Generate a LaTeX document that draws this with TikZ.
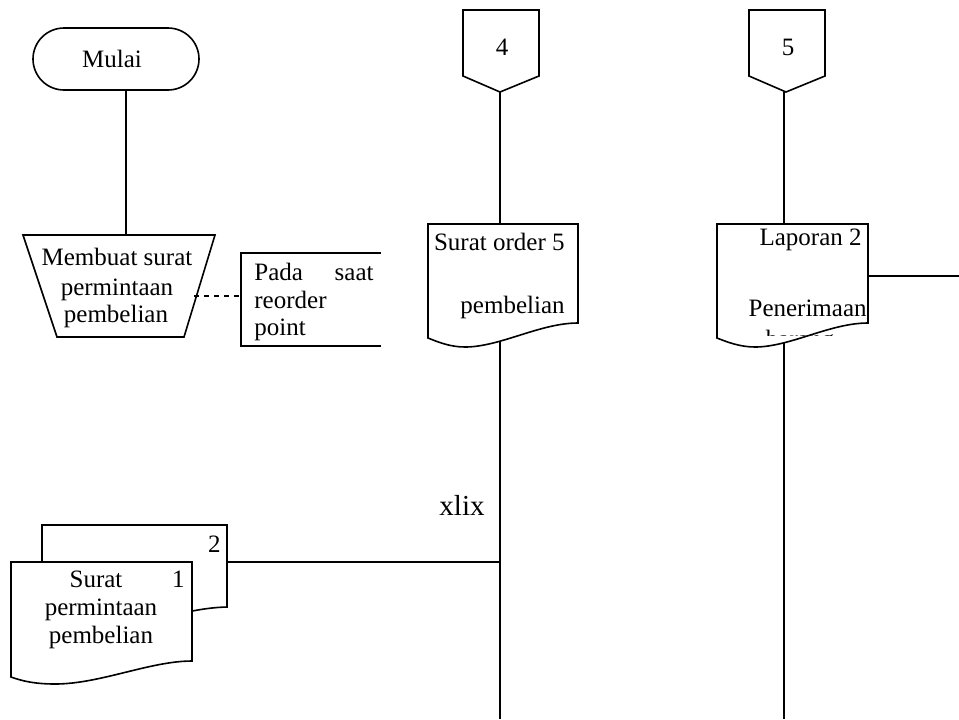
\documentclass[tikz,border=0pt]{standalone}
\usepackage{fontspec}
\setmainfont{Liberation Serif}
\begin{document}
\begin{tikzpicture}[x=0.5pt,y=-0.5pt,
  line/.style={line width=0.8pt, line join=miter},
  shapebox/.style={line, draw=black, fill=white},
  txt/.style={inner sep=0pt, font=\fontsize{12.5}{14}\selectfont, anchor=base},
  txtl/.style={txt, anchor=base west},
  txtr/.style={txt, anchor=base east}]
\useasboundingbox (0,0) rectangle (959,719);

% ---------- flow lines (drawn first, shapes cover their ends) ----------
\coordinate (mulaiS) at (126,90);
\coordinate (procN)  at (126,235);
\draw[line] (mulaiS) -- (procN);

\coordinate (c4S) at (500,92);
\coordinate (bot4) at (500,719);
\draw[line] (c4S) -- (bot4);

\coordinate (c5S) at (784,92);
\coordinate (bot5) at (784,719);
\draw[line] (c5S) -- (bot5);

\coordinate (join4) at (500,562);
\coordinate (spE) at (227,562);
\draw[line] (spE) -- (join4);

\coordinate (lapE) at (868,276);
\coordinate (rightEdge) at (959,276);
\draw[line] (lapE) -- (rightEdge);

% ---------- start terminator ----------
\draw[shapebox, rounded corners=15.5pt] (33,28) rectangle (199,90);
\node[txt] (tMulai) at (112,67) {Mulai};

% ---------- manual operation (trapezoid) ----------
\draw[shapebox] (23,235) -- (215,235) -- (184,337) -- (57,337) -- cycle;
\node[txt] (tProc1) at (117,265) {Membuat surat};
\node[txt] (tProc2) at (117,295) {permintaan};
\node[txt] (tProc3) at (116,322) {pembelian};

% ---------- annotation ----------
\coordinate (procE) at (194,296);
\coordinate (annW) at (241,296);
\draw[line, dash pattern=on 2.6pt off 2.4pt] (procE) -- (annW);
\draw[line] (381,253) -- (241,253) -- (241,346) -- (381,346);
\node[txtl] (tAnn1) at (254,280) {Pada};
\node[txtr] (tAnn2) at (374,280) {saat};
\node[txtl] (tAnn3) at (254,308) {reorder};
\node[txtl] (tAnn4) at (254,335) {point};

% ---------- off-page connectors ----------
\draw[shapebox] (463,10) -- (539,10) -- (539,76) -- (500,92) -- (463,76) -- cycle;
\node[txt] (t4) at (502,55) {4};
\draw[shapebox] (749,10) -- (825,10) -- (825,76) -- (786,92) -- (749,76) -- cycle;
\node[txt] (t5) at (788,55) {5};

% ---------- document: surat order ----------
\draw[shapebox] (428,224) -- (578,224) -- (578,323)
  .. controls (540,323) and (500,347) .. (465,347)
  .. controls (450,347) and (438,342) .. (428,338) -- cycle;
\node[txtr] (tOrd1) at (565,250) {Surat order 5};
\node[txtr] (tOrd2) at (565,313) {pembelian};

% ---------- document: laporan ----------
\draw[shapebox] (717,224) -- (868,224) -- (868,323)
  .. controls (830,323) and (790,347) .. (755,347)
  .. controls (740,347) and (727,342) .. (717,338) -- cycle;
\node[txtr] (tLap1) at (862,245) {Laporan 2};
\node[txtr] (tLap2) at (867,316) {Penerimaan};
\begin{scope}
  \clip (740,300) rectangle (870,335.5);
  \node[txt] (tLap3) at (800,347) {barang};
\end{scope}

% ---------- document set: surat permintaan pembelian ----------
\draw[shapebox] (42,525) -- (227,525) -- (227,607)
  .. controls (180,608) and (130,631) .. (90,630)
  .. controls (70,630) and (55,626) .. (42,622) -- cycle;
\node[txtr] (tSp2) at (221,552) {2};
\draw[shapebox] (11,562) -- (192,562) -- (192,661)
  .. controls (150,661) and (100,684) .. (55,684)
  .. controls (35,684) and (22,681) .. (11,677) -- cycle;
\node[txtr] (tSp1) at (185,587) {1};
\node[txt] (tSp3) at (96,587) {Surat};
\node[txt] (tSp4) at (101,615) {permintaan};
\node[txt] (tSp5) at (101,643) {pembelian};

% ---------- page number ----------
\node[inner sep=0pt, anchor=base east, font=\fontsize{14.5}{17}\selectfont] (tPage) at (485,515) {xlix};
\end{tikzpicture}
\end{document}
